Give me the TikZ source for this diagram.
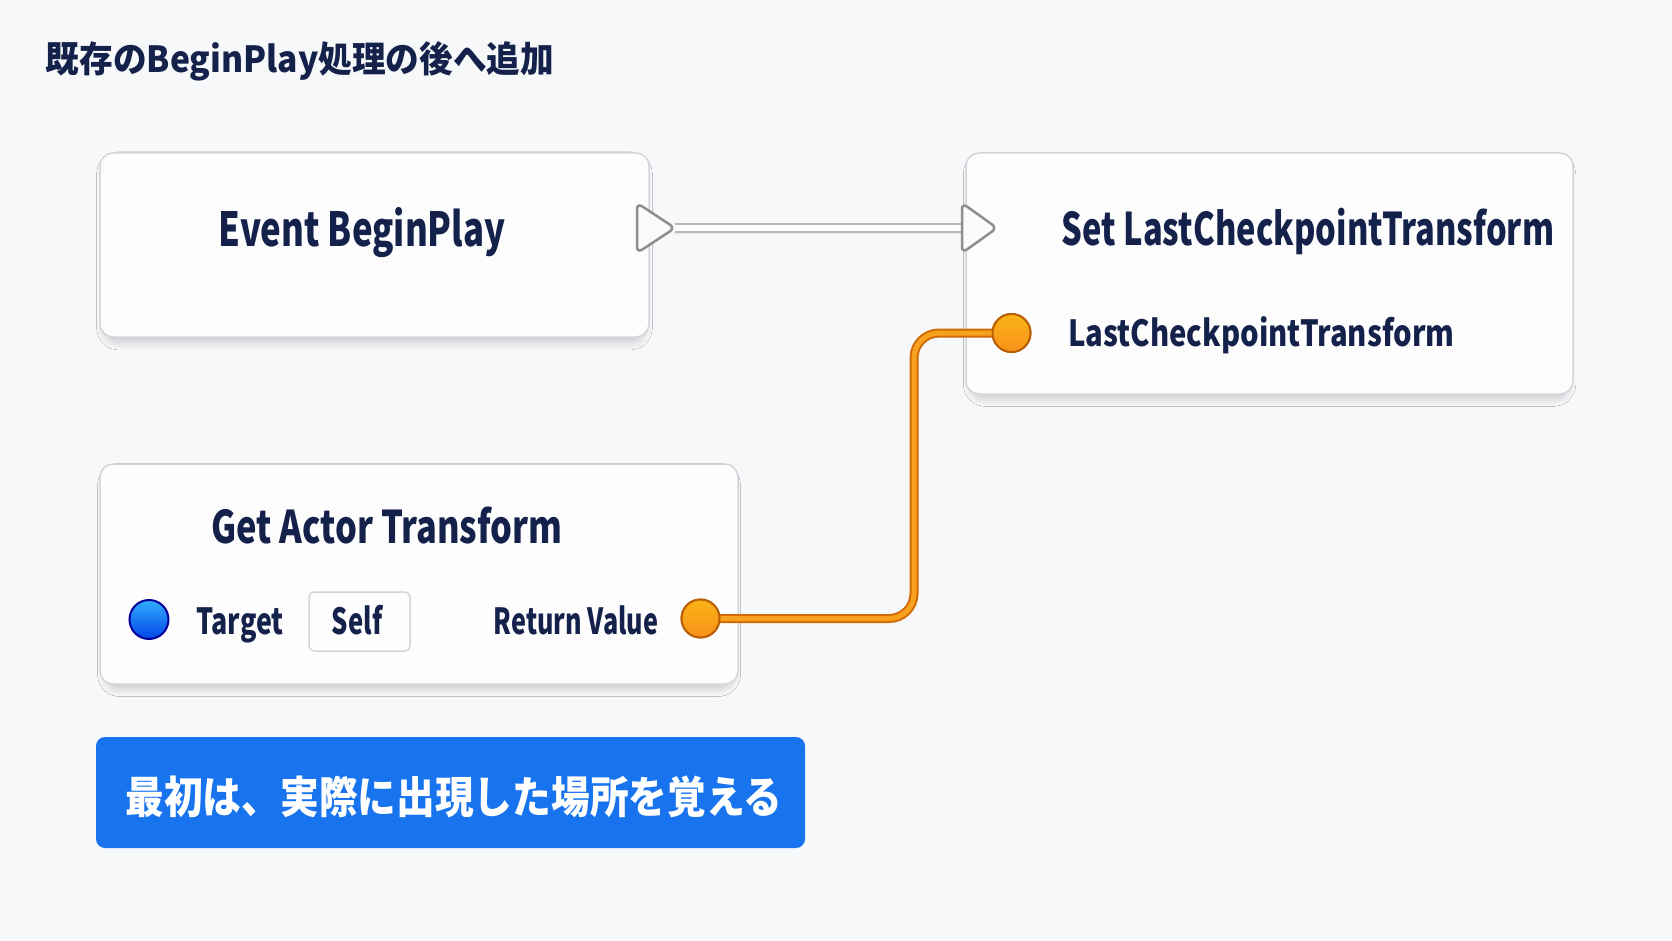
\documentclass[tikz,border=0pt]{standalone}
\usepackage{fontspec}
\newfontfamily\jpt{Noto Sans CJK JP}
\newfontfamily\jpbn{Noto Sans CJK JP}[FakeStretch=0.88]
\usetikzlibrary{shadows.blur}
\definecolor{bgc}{HTML}{F7F8FA}
\definecolor{boxfill}{HTML}{FDFDFE}
\definecolor{boxline}{HTML}{D3D5DA}
\definecolor{navy}{HTML}{14214A}
\definecolor{bannerblue}{HTML}{1873EE}
\definecolor{wireout}{HTML}{CF6A05}
\definecolor{wirein}{HTML}{F8A11E}
\definecolor{pinline}{HTML}{8E8E8E}
\definecolor{execout}{HTML}{B8B8B8}
\tikzset{
  nodebox/.style={draw=boxline, line width=1.5pt, fill=boxfill, rounded corners=13pt,
    blur shadow={shadow xshift=0pt, shadow yshift=-6pt, shadow scale=0.98, shadow blur radius=9pt, shadow blur steps=12, shadow opacity=22}},
  titletext/.style={anchor=base, inner sep=0pt, text=navy, font=\jpt\bfseries\fontsize{#1}{52}\selectfont},
  titletext/.default=47,
  pintext/.style={anchor=base, inner sep=0pt, text=navy, font=\jpt\bfseries\fontsize{36}{40}\selectfont},
  execpin/.style={draw=pinline, fill=white!96!gray, line width=2.5pt, rounded corners=6pt, line join=round},
  execwire/.style={draw=execout, line width=2pt, double=white!97!gray, double distance=6pt},
  datawire/.style={draw=wireout, line width=2pt, double=wirein, double distance=5pt, rounded corners=25pt},
  orangepin/.style={circle, draw=wireout!90!black, line width=2pt, top color=wirein!80!yellow, bottom color=wirein!90!red, minimum size=38pt, inner sep=0pt},
  bluepin/.style={circle, draw=blue!60!black, line width=2pt, top color=blue!40!cyan!80!white, bottom color=blue!70!cyan!90!black, minimum size=39pt, inner sep=0pt},
}
\begin{document}
\begin{tikzpicture}[x=1pt,y=-1pt]
\useasboundingbox[fill=bgc] (0,0) rectangle (1672,941);

% title
\node[anchor=base, inner sep=0pt, text=navy, font=\jpt\bfseries\fontsize{36}{40}\selectfont] (title) at (300,72.5) {\scalebox{0.935}[1]{既存のBeginPlay処理の後へ追加}};

% boxes
\node[nodebox, minimum width=549pt, minimum height=184pt] (evbox) at (374.5,245) {};
\node[nodebox, minimum width=607pt, minimum height=241pt] (setbox) at (1269.5,273.5) {};
\node[nodebox, minimum width=638pt, minimum height=220pt] (getbox) at (419,574) {};

% box titles
\node[titletext=47] (evt) at (362,246.7) {\scalebox{0.74}[1]{Event BeginPlay}};
\node[titletext=45] (sett) at (1308,246) {\scalebox{0.725}[1]{Set LastCheckpointTransform}};
\node[titletext=45] (gett) at (387,543.3) {\scalebox{0.765}[1]{Get Actor Transform}};

% pin labels
\node[pintext, anchor=base west] (lcpt) at (1068,346.7) {\scalebox{0.813}[1]{LastCheckpointTransform}};
\node[pintext] (tgt) at (240,634) {\scalebox{0.745}[1]{Target}};
\node[draw=boxline, line width=1.5pt, fill=boxfill, rounded corners=5pt, minimum width=101pt, minimum height=59pt] (selfbox) at (359.5,621.5) {};
\node[pintext] (selft) at (357,634) {\scalebox{0.713}[1]{Self}};
\node[pintext] (rvt) at (576,634) {\scalebox{0.70}[1]{Return Value}};

% exec connection
\coordinate (eotip) at (675,228);
\coordinate (eibase) at (962,228);
\draw[gray!20, line width=4pt] ([yshift=-4pt]eotip) -- ([yshift=-4pt]eibase);
\draw[execwire] (eotip) -- (eibase);
\draw[execpin] (eotip) -- ++(-38,-25) -- ++(0,50) -- cycle;
\draw[execpin] (eibase) ++(0,-25) -- ++(35,25) -- ++(-35,25) -- cycle;

% data wire
\coordinate (wx) at (914,0);
\node[orangepin] (rvpin) at (700.5,618.5) {};
\node[orangepin] (lcppin) at (1011.5,333) {};
\draw[datawire] (rvpin.center) -| (wx |- lcppin.center) -- (lcppin.center);
\node[orangepin] at (rvpin) {};
\node[orangepin] at (lcppin) {};
\node[bluepin] (tgtpin) at (149,619.5) {};

% banner
\node[fill=bannerblue, rounded corners=9pt, minimum width=709pt, minimum height=111pt] (banner) at (450.5,792.5) {};
\node[anchor=base, inner sep=0pt, text=white, font=\jpbn\bfseries\fontsize{44}{48}\selectfont] (bannert) at (454,813.5) {最初は、実際に出現した場所を覚える};
\end{tikzpicture}
\end{document}
